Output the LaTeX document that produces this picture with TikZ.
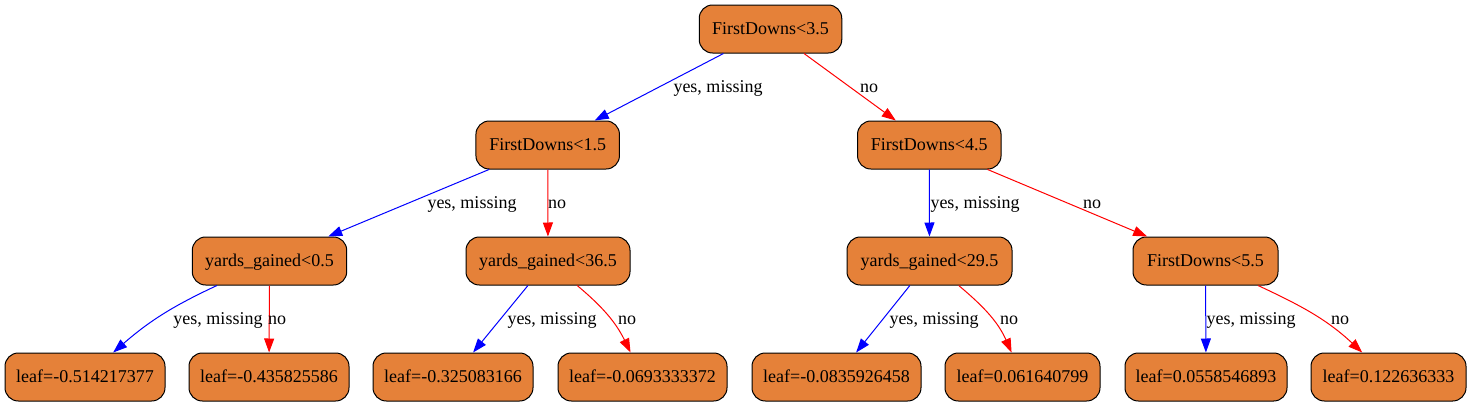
\documentclass[tikz,border=0pt]{standalone}
\usepackage{fontspec}
\setmainfont{Liberation Serif}
\usetikzlibrary{arrows.meta}
\definecolor{nodefill}{HTML}{E58139}
\begin{document}
\begin{tikzpicture}[x=0.75pt,y=-0.75pt,
  tree/.style={draw=black,fill=nodefill,rounded corners=10pt,line width=0.75pt,
    minimum height=36pt,inner xsep=0pt,inner ysep=0pt,text height=10pt,text depth=2.5pt,
    font=\fontsize{13.5}{16}\selectfont},
  w/.style={minimum width=#1*0.75pt},
  yesedge/.style={draw=blue,line width=0.75pt,-{Triangle[length=10.5pt,width=7.5pt]}},
  noedge/.style={draw=red,line width=0.75pt,-{Triangle[length=10.5pt,width=7.5pt]}},
  lab/.style={anchor=base,inner sep=0pt,font=\fontsize{13.5}{16}\selectfont}]
\useasboundingbox (0,0) rectangle (1471,407);

% nodes
\node[tree,w=142.5] (root)  at (770.5,29)  {FirstDowns<3.5};
\node[tree,w=143.5] (fd15)  at (547.7,145) {FirstDowns<1.5};
\node[tree,w=143.5] (fd45)  at (929.3,145) {FirstDowns<4.5};
\node[tree,w=154.4] (yg05)  at (269.5,261) {yards\_gained<0.5};
\node[tree,w=164]   (yg365) at (548,261)   {yards\_gained<36.5};
\node[tree,w=165]   (yg295) at (929.5,261) {yards\_gained<29.5};
\node[tree,w=145]   (fd55)  at (1205.5,261){FirstDowns<5.5};
\node[tree,w=160]   (lf1)   at (85,377)    {leaf=-0.514217377};
\node[tree,w=160]   (lf2)   at (269,377)   {leaf=-0.435825586};
\node[tree,w=160]   (lf3)   at (453,377)   {leaf=-0.325083166};
\node[tree,w=169]   (lf4)   at (642.5,377) {leaf=-0.0693333372};
\node[tree,w=169]   (lf5)   at (836.5,377) {leaf=-0.0835926458};
\node[tree,w=155]   (lf6)   at (1022.5,377){leaf=0.061640799};
\node[tree,w=162]   (lf7)   at (1206,377)  {leaf=0.0558546893};
\node[tree,w=155]   (lf8)   at (1388.5,377){leaf=0.122636333};

% edges
\draw[yesedge] (root) -- (fd15);
\draw[noedge]  (root) -- (fd45);
\draw[yesedge] (fd15) -- (yg05);
\draw[noedge]  (fd15) -- (yg365);
\draw[yesedge] (fd45) -- (yg295);
\draw[noedge]  (fd45) -- (fd55);
\draw[yesedge] (yg05) to[out=205,in=41] (lf1);
\draw[noedge]  (yg05) -- (lf2);
\draw[yesedge] (yg365) -- (lf3);
\draw[noedge]  (yg365) to[out=320,in=116] (lf4);
\draw[yesedge] (yg295) -- (lf5);
\draw[noedge]  (yg295) to[out=320,in=114] (lf6);
\draw[yesedge] (fd55) -- (lf7);
\draw[noedge]  (fd55) to[out=335,in=137] (lf8);

% labels
\node[lab] (t1)  at (718,92)   {yes, missing};
\node[lab] (t2)  at (869,92)   {no};
\node[lab] (t3)  at (472,208)  {yes, missing};
\node[lab] (t4)  at (557,208)  {no};
\node[lab] (t5)  at (975,208)  {yes, missing};
\node[lab] (t6)  at (1092,208) {no};
\node[lab] (t7)  at (218,324)  {yes, missing};
\node[lab] (t8)  at (277,324)  {no};
\node[lab] (t9)  at (552,324)  {yes, missing};
\node[lab] (t10) at (627,324)  {no};
\node[lab] (t11) at (934,324)  {yes, missing};
\node[lab] (t12) at (1009,324) {no};
\node[lab] (t13) at (1251,324) {yes, missing};
\node[lab] (t14) at (1340,324) {no};
\end{tikzpicture}
\end{document}
